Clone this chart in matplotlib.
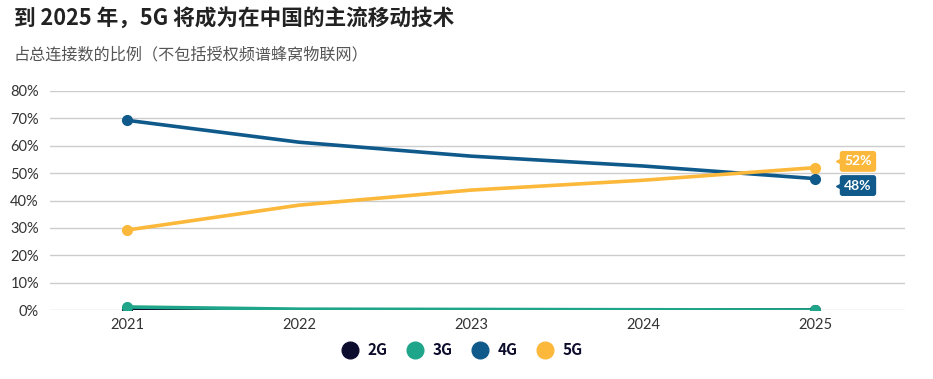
import matplotlib
matplotlib.use("Agg")
import matplotlib.pyplot as plt
from matplotlib.lines import Line2D
import matplotlib.transforms as mtransforms

plt.rcParams['font.family'] = ['Noto Sans CJK SC', 'DejaVu Sans']

years = [2021, 2022, 2023, 2024, 2025]
series_names = ["2G", "3G", "4G", "5G"]
v2g = [0.3, 0.0, 0.0, 0.0, 0.0]
v3g = [1.1, 0.3, 0.2, 0.1, 0.0]
v4g = [69.3, 61.3, 56.2, 52.6, 48.0]
v5g = [29.2, 38.3, 43.8, 47.4, 52.0]
colors = ["#0c0c2c", "#1fa58a", "#0f5a8b", "#fbb83a"]
yticks = [0, 10, 20, 30, 40, 50, 60, 70, 80]
title = "到 2025 年，5G 将成为在中国的主流移动技术"
subtitle = "占总连接数的比例（不包括授权频谱蜂窝物联网）"

W, H = 933, 379
fig = plt.figure(figsize=(W/100, H/100), dpi=100)
ax = fig.add_axes([50/W, 1-310/H, (905-50)/W, (310-91)/H])

fig.text(14/W, 1-18/H, title, fontsize=15.6, fontweight='bold', color='#222222', va='center', ha='left')
fig.text(14/W, 1-55/H, subtitle, fontsize=11.6, color='#555555', va='center', ha='left')

for vals, c in zip([v2g, v3g, v4g, v5g], colors):
    ax.plot(years, vals, color=c, lw=2.6, solid_capstyle='round', zorder=3)
    ax.plot([years[0], years[-1]], [vals[0], vals[-1]], 'o', color=c, ms=7, zorder=4)

ax.set_xlim(2020.552, 2025.523)
ax.set_ylim(0, 80)
ax.set_yticks(yticks)
ax.set_yticklabels([f"{t}%" for t in yticks], fontsize=10.5, color='#333333', family='Lato')
ax.set_xticks(years)
ax.set_xticklabels([str(y) for y in years], fontsize=10.5, color='#333333', family='Lato')
ax.tick_params(length=0, pad=6)
ax.tick_params(axis='y', pad=8)
ax.grid(axis='y', color='#cccccc', lw=1)
ax.set_axisbelow(True)
for s in ax.spines.values():
    s.set_visible(False)

# end labels
for val, c, dy in [(v5g[-1], colors[3], 4.5), (v4g[-1], colors[2], -5.0)]:
    ax.annotate(f"{val:.0f}%", xy=(years[-1], val), xytext=(21, dy),
                textcoords='offset points', fontsize=10, fontweight='bold', color='white',
                family='Lato', va='center', ha='left',
                bbox=dict(boxstyle='round,pad=0.32,rounding_size=0.2', fc=c, ec='none'),
                zorder=5)
    ax.plot([years[-1]], [val], marker='<', ms=4, color=c, ls='none',
            transform=ax.transData + mtransforms.ScaledTranslation(17/72, dy/72, fig.dpi_scale_trans),
            zorder=5)

handles = [Line2D([], [], marker='o', ls='none', color=c, ms=12) for c in colors]
leg = fig.legend(handles, series_names, loc='center', bbox_to_anchor=(459/W, 1-350/H),
                 ncol=4, frameon=False, handletextpad=0.15, columnspacing=0.8,
                 prop={'family': ['Noto Sans CJK SC'], 'weight': 'bold', 'size': 11})
for t in leg.get_texts():
    t.set_color('#0c0c2c')

fig.savefig("out.png", dpi=100)
